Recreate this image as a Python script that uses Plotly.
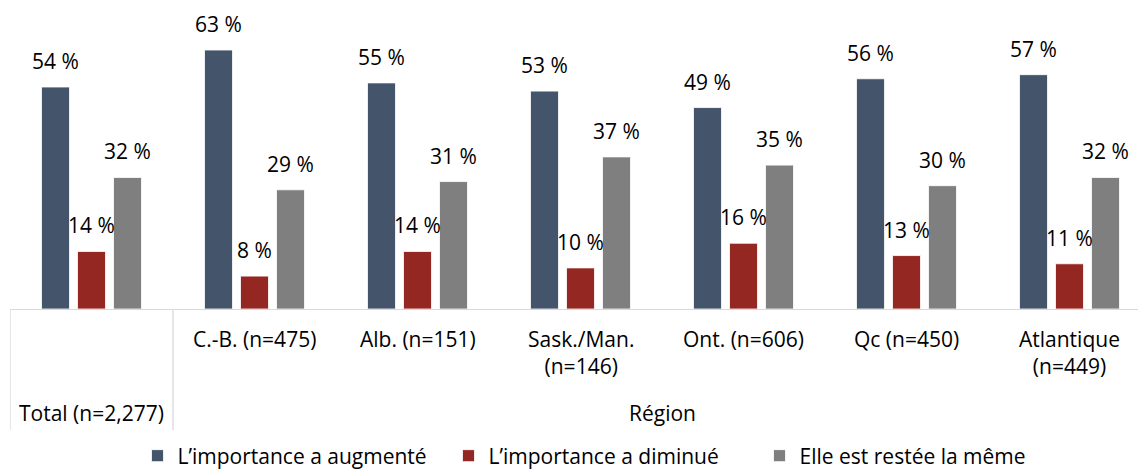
import plotly.graph_objects as go

# ---- data ----
groups_outer = ["Total (n=2,277)", "Région"]
categories = ["", "C.-B. (n=475)", "Alb. (n=151)", "Sask./Man.<br>(n=146)",
              "Ont. (n=606)", "Qc (n=450)", "Atlantique<br>(n=449)"]
series_names = ["L\u2019importance a augmenté", "L\u2019importance a diminué",
                "Elle est restée la même"]
augmente = [54, 63, 55, 53, 49, 56, 57]
diminue = [14, 8, 14, 10, 16, 13, 11]
meme = [32, 29, 31, 37, 35, 30, 32]
colors = ["#44546A", "#952722", "#7F7F7F"]

FONT = "Open Sans"
FS = 21
W, H = 1138, 472
ML, MB = 10, 163
cat_px = 163.0
plot_w = W - ML
plot_h = H - MB
xs = list(range(len(categories)))

fig = go.Figure()
all_series = [augmente, diminue, meme]
for name, vals, col in zip(series_names, all_series, colors):
    fig.add_trace(go.Bar(
        x=xs, y=vals, name=name,
        marker=dict(color=col, line=dict(color="white", width=0.8)),
        hoverinfo="skip",
    ))

# value labels above bars
offsets = [-36, 0, 36]
for vals, off in zip(all_series, offsets):
    for x, v in zip(xs, vals):
        fig.add_annotation(x=x, y=v, xref="x", yref="y", text=f"{v} %",
                           showarrow=False, xshift=off, yshift=26,
                           yanchor="middle", xanchor="center",
                           font=dict(family=FONT, size=FS, color="black"))

# inner category labels
for x, lab in zip(xs, categories):
    if lab:
        fig.add_annotation(x=x, y=0, xref="x", yref="paper", text=lab,
                           showarrow=False, yanchor="top", yshift=-14,
                           font=dict(family=FONT, size=FS, color="black"))

# outer group labels
fig.add_annotation(x=0, y=0, xref="x", yref="paper", text=groups_outer[0],
                   showarrow=False, yanchor="middle", yshift=-104,
                   font=dict(family=FONT, size=FS, color="black"))
fig.add_annotation(x=(0.5 + 6.5) / 2, y=0, xref="x", yref="paper",
                   text=groups_outer[1], showarrow=False, yanchor="middle",
                   yshift=-104, font=dict(family=FONT, size=FS, color="black"))

# divider lines
for xd in [-0.5, 0.5]:
    fig.add_shape(type="line", xref="x", yref="paper", x0=xd, x1=xd,
                  y0=0, y1=-121 / plot_h, line=dict(color="#D9D9D9", width=1.3))

fig.update_layout(
    width=W, height=H,
    margin=dict(l=ML, r=0, t=0, b=MB, autoexpand=False),
    plot_bgcolor="white", paper_bgcolor="white",
    barmode="group", bargap=(cat_px - 108) / cat_px, bargroupgap=8 / 36,
    font=dict(family=FONT, size=FS, color="black"),
    showlegend=True,
    legend=dict(orientation="h", x=0.5 + 30 / plot_w, xanchor="center",
                y=-147 / plot_h, yanchor="middle",
                font=dict(family=FONT, size=FS, color="black"),
                itemwidth=30, traceorder="normal",
                entrywidth=266, entrywidthmode="pixels"),
    xaxis=dict(range=[-0.5, -0.5 + plot_w / cat_px], showticklabels=False,
               showgrid=False, zeroline=False, showline=True,
               linecolor="#D9D9D9", linewidth=1.3, ticks=""),
    yaxis=dict(range=[0, 309 / (259 / 63)], visible=False),
)

fig.write_html("out.html", config={"displayModeBar": False},
               post_script="document.body.style.margin='0';document.body.style.padding='0';")
